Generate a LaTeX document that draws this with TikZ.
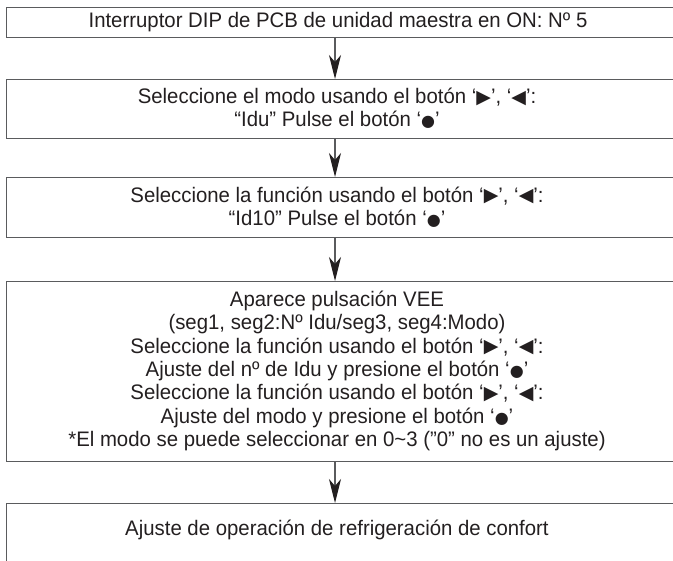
\documentclass[tikz,border=0pt]{standalone}
\usepackage{fontspec}
\setmainfont{Liberation Sans}[FakeStretch=0.97]
\newfontfamily\symf{DejaVu Sans}
\usetikzlibrary{arrows.meta}
\definecolor{linegray}{HTML}{5A5B5D}
\definecolor{textc}{HTML}{231F20}
\newcommand{\rtri}{{\symf\fontsize{19}{19}\selectfont\raisebox{0.5pt}{▶}}}
\newcommand{\ltri}{{\symf\fontsize{19}{19}\selectfont\raisebox{0.5pt}{◀}}}
\newcommand{\bdot}{{\symf\fontsize{16}{16}\selectfont ●}}
\begin{document}
\begin{tikzpicture}[x=1pt,y=-1pt,
  box/.style={draw=linegray, line width=1.3pt, minimum width=720pt, anchor=north west, inner sep=0pt},
  txt/.style={align=center, font=\fontsize{21}{23.3}\selectfont, text=textc, inner sep=0pt},
  arr/.style={draw=linegray, line width=1.2pt, -{Stealth[length=24pt,width=12pt,inset=7pt,color=textc]}}]
\useasboundingbox (0,0) rectangle (673,561);
\clip (0,0) rectangle (673,561);
\node[box, minimum height=30pt] (b1) at (6,7) {};
\node[box, minimum height=59pt] (b2) at (6,79) {};
\node[box, minimum height=60pt] (b3) at (6,177) {};
\node[box, minimum height=180pt] (b4) at (6,281) {};
\node[box, minimum height=100pt] (b5) at (6,503) {};
\coordinate (ax) at (335,0);
\node[txt] (t1) at (338,22) {Interruptor DIP de PCB de unidad maestra en ON: Nº 5};
\node[txt] (t2) at (337,108.5) {Seleccione el modo usando el botón ‘\rtri’, ‘\ltri’:\\“Idu” Pulse el botón ‘\bdot’};
\node[txt] (t3) at (337,207) {Seleccione la función usando el botón ‘\rtri’, ‘\ltri’:\\“Id10” Pulse el botón ‘\bdot’};
\node[txt] (t4) at (337,371) {Aparece pulsación VEE\\(seg1, seg2:Nº Idu/seg3, seg4:Modo)\\Seleccione la función usando el botón ‘\rtri’, ‘\ltri’:\\Ajuste del nº de Idu y presione el botón ‘\bdot’\\Seleccione la función usando el botón ‘\rtri’, ‘\ltri’:\\Ajuste del modo y presione el botón ‘\bdot’\\*El modo se puede seleccionar en 0\textasciitilde3 (”0” no es un ajuste)};
\node[txt] (t5) at (337,530) {Ajuste de operación de refrigeración de confort};
\draw[arr] (b1.south -| ax) -- (b2.north -| ax);
\draw[arr] (b2.south -| ax) -- (b3.north -| ax);
\draw[arr] (b3.south -| ax) -- (b4.north -| ax);
\draw[arr] (b4.south -| ax) -- (b5.north -| ax);
\end{tikzpicture}
\end{document}
